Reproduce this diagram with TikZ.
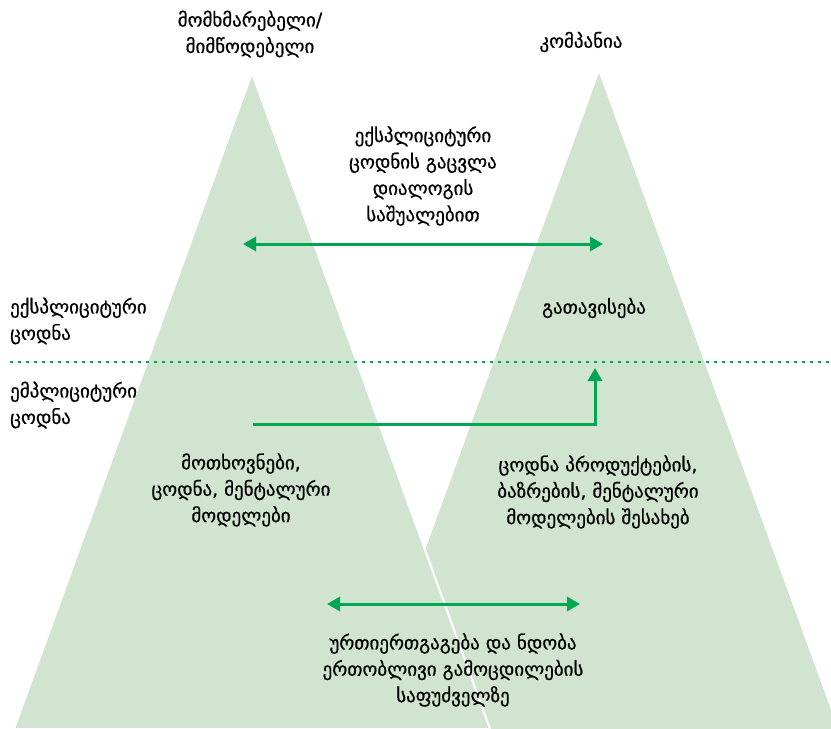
\documentclass[tikz,border=0pt]{standalone}
\usepackage{fontspec}
\setmainfont{DejaVu Sans}
\newfontfamily\geofont{DejaVu Sans}[FakeBold=0.6]
\usetikzlibrary{arrows.meta}
\definecolor{trifill}{HTML}{D1E4D0}
\definecolor{arrowgreen}{HTML}{00A651}
\begin{document}
\begin{tikzpicture}[x=1bp,y=-1bp,
  lbl/.style={font=\geofont\fontsize{19}{26.5}\selectfont, align=center, inner sep=0pt, text=black},
  lbll/.style={lbl, align=left, anchor=west},
  arr/.style={draw=arrowgreen, line width=3bp},
  tri/.style={fill=trifill}]
\useasboundingbox (0,0) rectangle (831,729);
\clip (0,0) rectangle (831,729);
% triangles
\fill[tri] (599,73) -- (360,729) -- (838,729) -- cycle;
\filldraw[tri, draw=white, line width=2bp, line join=miter] (252,73) -- (14,729) -- (490,729) -- cycle;
% dotted separator
\coordinate (dl) at (10,362);
\coordinate (dr) at (831,362);
\draw[arrowgreen, line width=2.5bp, dash pattern=on 2.5bp off 5.5bp] (dl) -- (dr);
% texts
\node[lbl] (cons) at (250,34) {მომხმარებელი/\\მიმწოდებელი};
\node[lbl] (comp) at (581,42) {კომპანია};
\node[lbl] (exch) at (423,176) {ექსპლიციტური\\ცოდნის გაცვლა\\დიალოგის\\საშუალებით};
\node[lbll] (expl) at (10,321) {ექსპლიციტური\\ცოდნა};
\node[lbll] (impl) at (10,405) {ემპლიციტური\\ცოდნა};
\node[lbl] (intern) at (594,308) {გათავისება};
\node[lbl] (needs) at (241,490) {მოთხოვნები,\\ცოდნა, მენტალური\\მოდელები};
\node[lbl] (know) at (598,492) {ცოდნა პროდუქტების,\\ბაზრების, მენტალური\\მოდელების შესახებ};
\node[lbl] (trust) at (453,670) {ურთიერთგაგება და ნდობა\\ერთობლივი გამოცდილების\\საფუძველზე};
% arrows
\coordinate (a1l) at (243,244);
\coordinate (a1r) at (603,244);
\draw[arr, {Triangle[length=13bp,width=14bp]}-{Triangle[length=13bp,width=14bp]}] (a1l) -- (a1r);
\coordinate (l1) at (253,424);
\coordinate (l2) at (595,368);
\draw[arr, -{Triangle[length=13bp,width=14bp]}] (l1) -| (l2);
\coordinate (b1l) at (327,604);
\coordinate (b1r) at (580,604);
\draw[arr, {Triangle[length=13bp,width=14bp]}-{Triangle[length=13bp,width=14bp]}] (b1l) -- (b1r);
\end{tikzpicture}
\end{document}
